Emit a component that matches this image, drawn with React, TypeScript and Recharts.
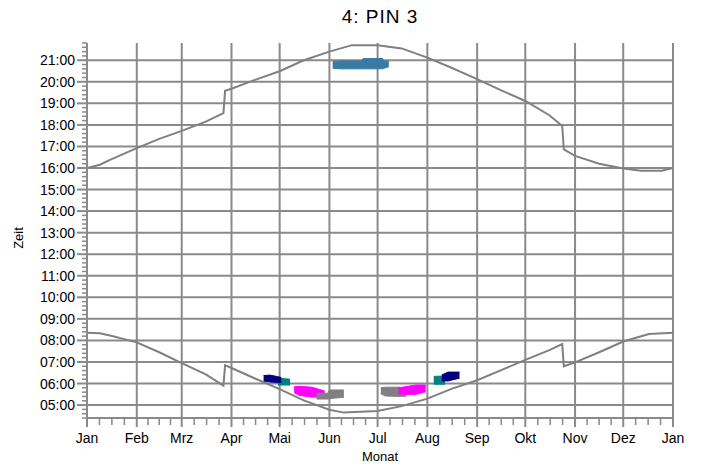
import React from "react";
import {
  ComposedChart,
  Line,
  Area,
  XAxis,
  YAxis,
  CartesianGrid,
} from "recharts";

// day of year for each month start, and the month labels under them
const MONTH_START = [0, 31, 59, 90, 120, 151, 181, 212, 243, 273, 304, 334, 365];
const MONTHS = ["Jan", "Feb", "Mrz", "Apr", "Mai", "Jun", "Jul", "Aug", "Sep", "Okt", "Nov", "Dez", "Jan"];
const HOURS = [5, 6, 7, 8, 9, 10, 11, 12, 13, 14, 15, 16, 17, 18, 19, 20, 21];

// sunset (upper curve), hours local time
const sunset = [
  { d: 0, h: 16.0 }, { d: 8, h: 16.15 }, { d: 15, h: 16.4 }, { d: 31, h: 16.92 },
  { d: 45, h: 17.35 }, { d: 59, h: 17.72 }, { d: 74, h: 18.15 }, { d: 85, h: 18.55 },
  { d: 86, h: 19.58 }, { d: 90, h: 19.68 }, { d: 105, h: 20.1 }, { d: 120, h: 20.49 },
  { d: 135, h: 21.0 }, { d: 151, h: 21.4 }, { d: 165, h: 21.7 }, { d: 181, h: 21.7 },
  { d: 196, h: 21.55 }, { d: 212, h: 21.12 }, { d: 227, h: 20.65 }, { d: 243, h: 20.12 },
  { d: 258, h: 19.6 }, { d: 273, h: 19.11 }, { d: 288, h: 18.45 }, { d: 296, h: 17.95 },
  { d: 297, h: 16.86 }, { d: 304, h: 16.56 }, { d: 319, h: 16.2 }, { d: 334, h: 15.98 },
  { d: 345, h: 15.87 }, { d: 358, h: 15.87 }, { d: 365, h: 16.0 },
];

// sunrise (lower curve)
const sunrise = [
  { d: 0, h: 8.35 }, { d: 8, h: 8.33 }, { d: 15, h: 8.22 }, { d: 31, h: 7.91 },
  { d: 45, h: 7.45 }, { d: 59, h: 6.95 }, { d: 74, h: 6.42 }, { d: 85, h: 5.9 },
  { d: 86, h: 6.85 }, { d: 90, h: 6.72 }, { d: 105, h: 6.22 }, { d: 120, h: 5.74 },
  { d: 135, h: 5.22 }, { d: 151, h: 4.78 }, { d: 160, h: 4.65 }, { d: 181, h: 4.72 },
  { d: 196, h: 4.95 }, { d: 212, h: 5.3 }, { d: 227, h: 5.75 }, { d: 243, h: 6.15 },
  { d: 258, h: 6.62 }, { d: 273, h: 7.1 }, { d: 288, h: 7.55 }, { d: 296, h: 7.83 },
  { d: 297, h: 6.8 }, { d: 304, h: 6.98 }, { d: 319, h: 7.45 }, { d: 334, h: 7.95 },
  { d: 350, h: 8.3 }, { d: 365, h: 8.35 },
];

// shadow periods: [from, to] hours per day
const eveningSteel = [
  { d: 153, r: [20.63, 20.95] }, { d: 158, r: [20.6, 20.97] }, { d: 171, r: [20.6, 20.97] },
  { d: 172, r: [20.6, 21.08] }, { d: 184, r: [20.6, 21.08] }, { d: 185, r: [20.63, 20.97] },
  { d: 188, r: [20.7, 20.95] },
];
const tealSpring = [{ d: 119, r: [5.93, 6.25] }, { d: 126.5, r: [5.93, 6.2] }];
const navySpring = [
  { d: 110, r: [6.1, 6.37] }, { d: 114, r: [6.07, 6.39] }, { d: 118, r: [6.05, 6.33] }, { d: 121, r: [6.05, 6.28] },
];
const magentaSpring = [
  { d: 129, r: [5.58, 5.85] }, { d: 132, r: [5.45, 5.87] }, { d: 140, r: [5.37, 5.83] },
  { d: 145, r: [5.37, 5.72] }, { d: 148, r: [5.4, 5.65] },
];
const graySpring = [
  { d: 143, r: [5.28, 5.55] }, { d: 150, r: [5.28, 5.55] }, { d: 151, r: [5.3, 5.7] }, { d: 160, r: [5.36, 5.7] },
];
const graySummer = [
  { d: 183, r: [5.52, 5.8] }, { d: 186, r: [5.42, 5.83] }, { d: 195, r: [5.4, 5.83] }, { d: 199, r: [5.42, 5.66] },
];
const magentaSummer = [
  { d: 194, r: [5.52, 5.8] }, { d: 198, r: [5.5, 5.85] }, { d: 205, r: [5.5, 5.93] }, { d: 211, r: [5.62, 5.93] },
];
const tealSummer = [{ d: 216, r: [5.97, 6.33] }, { d: 223, r: [5.97, 6.35] }];
const navySummer = [{ d: 221, r: [6.12, 6.4] }, { d: 225, r: [6.12, 6.53] }, { d: 232, r: [6.25, 6.53] }];

const FONT = '"Liberation Sans", Arial, sans-serif';
const GRID = "#8a8a8a";

// month starts plus quarter-month minor ticks
const xTicks: number[] = [];
MONTH_START.forEach((s, i) => {
  xTicks.push(s);
  if (i < MONTH_START.length - 1) {
    const len = MONTH_START[i + 1] - s;
    for (let q = 1; q < 4; q++) xTicks.push(s + (len * q) / 4);
  }
});

// 12-minute minor ticks from 4:24 to 21:48
const yTicks: number[] = [];
for (let k = 0; k <= 87; k++) yTicks.push(Math.round((4.4 + k * 0.2) * 100) / 100);

const isHour = (v: number) => Math.abs(v - Math.round(v)) < 1e-6;
const fmtHour = (v: number) => `${String(Math.round(v)).padStart(2, "0")}:00`;

const XTick = (props: any) => {
  const { x, y, payload } = props;
  const idx = MONTH_START.indexOf(payload.value);
  const major = idx >= 0;
  return (
    <g>
      <line x1={x} x2={x} y1={y} y2={y + (major ? 9 : 7)} stroke={GRID} strokeWidth={major ? 2 : 1.5} />
      {major && (
        <text x={x} y={y + 25} textAnchor="middle" fontSize={14} fill="#000" fontFamily={FONT}>
          {MONTHS[idx]}
        </text>
      )}
    </g>
  );
};

const YTick = (props: any) => {
  const { x, y, payload } = props;
  const major = isHour(payload.value);
  return (
    <g>
      <line x1={x - (major ? 10 : 5)} x2={x} y1={y} y2={y} stroke={GRID} strokeWidth={major ? 2 : 1.5} />
      {major && (
        <text x={x - 12} y={y} dy={5} textAnchor="end" fontSize={14} fill="#000" fontFamily={FONT}>
          {fmtHour(payload.value)}
        </text>
      )}
    </g>
  );
};

const blobs: [any[], string][] = [
  [eveningSteel, "#3a7ba6"],
  [magentaSpring, "#ff00ff"],
  [graySpring, "#808080"],
  [tealSpring, "#008080"],
  [navySpring, "#000080"],
  [graySummer, "#808080"],
  [magentaSummer, "#ff00ff"],
  [tealSummer, "#008080"],
  [navySummer, "#000080"],
];

export default function App() {
  return (
    <div style={{ position: "absolute", left: 0, top: 0, width: 702, height: 466, background: "#fff", fontFamily: FONT }}>
      <div style={{ position: "absolute", left: 0, top: 6, width: 760, textAlign: "center", fontSize: 19, letterSpacing: 1 }}>
        4: PIN 3
      </div>
      <div
        style={{
          position: "absolute",
          left: 18,
          top: 238,
          fontSize: 13,
          transform: "translate(-50%, -50%) rotate(-90deg)",
        }}
      >
        Zeit
      </div>
      <div style={{ position: "absolute", left: 0, top: 449, width: 760, textAlign: "center", fontSize: 13 }}>Monat</div>
      <ComposedChart width={702} height={466} margin={{ top: 43, right: 29, bottom: 0, left: 0 }}>
        <CartesianGrid
          stroke={GRID}
          strokeWidth={2}
          horizontalValues={HOURS}
          verticalValues={MONTH_START}
        />
        <XAxis
          type="number"
          dataKey="d"
          domain={[0, 365]}
          ticks={xTicks}
          interval={0}
          height={48}
          tickSize={0}
          tickMargin={0}
          tick={<XTick />}
          axisLine={{ stroke: GRID, strokeWidth: 2 }}
          allowDataOverflow
        />
        <YAxis
          type="number"
          domain={[4.4, 21.8]}
          ticks={yTicks}
          interval={0}
          width={87}
          tickSize={0}
          tickMargin={0}
          tick={<YTick />}
          axisLine={{ stroke: GRID, strokeWidth: 2 }}
          allowDataOverflow
        />
        <Line data={sunset} dataKey="h" stroke="#808080" strokeWidth={2} dot={false} isAnimationActive={false} type="linear" />
        <Line data={sunrise} dataKey="h" stroke="#808080" strokeWidth={2} dot={false} isAnimationActive={false} type="linear" />
        {blobs.map(([data, color], i) => (
          <Area
            key={i}
            data={data}
            dataKey="r"
            stroke={color}
            strokeWidth={1}
            fill={color}
            fillOpacity={1}
            type="linear"
            isAnimationActive={false}
          />
        ))}
      </ComposedChart>
    </div>
  );
}
